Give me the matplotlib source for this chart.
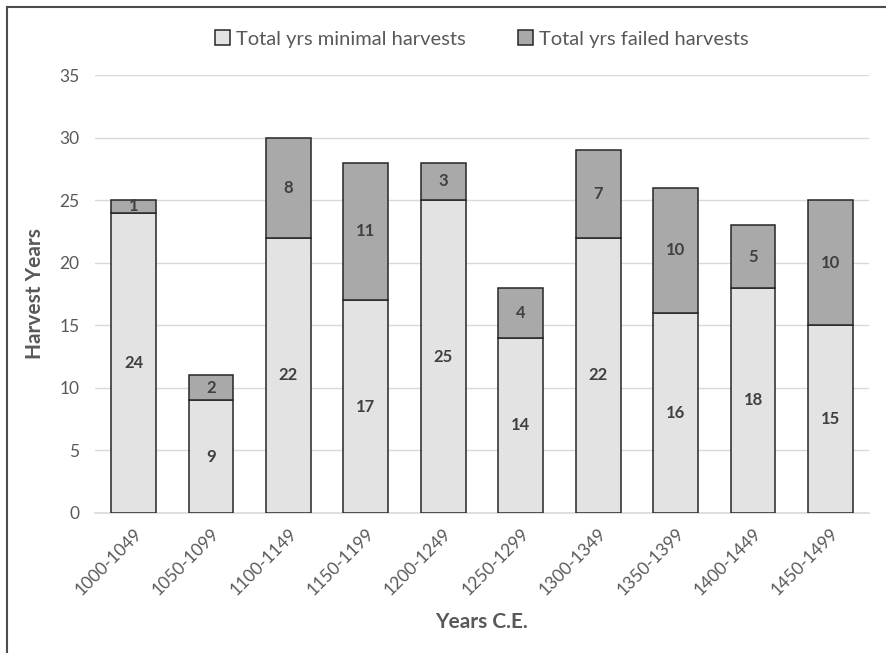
import numpy as np
import matplotlib
matplotlib.use("Agg")
import matplotlib.pyplot as plt
from matplotlib.lines import Line2D

periods = ["1000-1049", "1050-1099", "1100-1149", "1150-1199", "1200-1249",
           "1250-1299", "1300-1349", "1350-1399", "1400-1449", "1450-1499"]
minimal = [24, 9, 22, 17, 25, 14, 22, 16, 18, 15]
failed = [1, 2, 8, 11, 3, 4, 7, 10, 5, 10]

plt.rcParams['font.family'] = ['Lato', 'DejaVu Sans']
txt = '#595959'

fig = plt.figure(figsize=(8.86, 6.53), dpi=100)
ax = fig.add_axes([0.107, 0.2144, 0.874, 0.6706])

x = np.arange(len(periods))
w = 0.58
ax.bar(x, minimal, w, color='#e3e3e3', edgecolor='#262626', linewidth=1.1,
       label='Total yrs minimal harvests', zorder=3)
ax.bar(x, failed, w, bottom=minimal, color='#a9a9a9', edgecolor='#262626',
       linewidth=1.1, label='Total yrs failed harvests', zorder=3)

for i in range(len(periods)):
    ax.text(x[i], minimal[i] / 2, str(minimal[i]), ha='center', va='center',
            fontsize=12, fontweight='bold', color='#404040', zorder=4)
    ax.text(x[i], minimal[i] + failed[i] / 2, str(failed[i]), ha='center', va='center',
            fontsize=12, fontweight='bold', color='#404040', zorder=4)

ax.set_xlim(-0.5, len(periods) - 0.5)
ax.set_ylim(0, 35)
ax.set_yticks(range(0, 36, 5))
ax.yaxis.grid(True, color='#d9d9d9', linewidth=1, zorder=0)
ax.set_axisbelow(True)
for s in ['top', 'right', 'left']:
    ax.spines[s].set_visible(False)
ax.spines['bottom'].set_color('#d9d9d9')
ax.spines['bottom'].set_linewidth(1.2)
ax.tick_params(axis='both', length=0, colors=txt, labelsize=12.5)
ax.tick_params(axis='y', pad=11)
ax.set_xticks(x)
ax.set_xticklabels(periods, rotation=45, ha='right', rotation_mode='anchor')
ax.tick_params(axis='x', pad=9)

ax.set_ylabel('Harvest Years', fontsize=15, fontweight='bold', color=txt, labelpad=10)
ax.set_xlabel('Years C.E.', fontsize=15, fontweight='bold', color=txt, labelpad=10)

leg = ax.legend(loc='lower center', bbox_to_anchor=(0.5, 1.03), ncol=2, frameon=False,
                fontsize=14.5, handlelength=0.75, handleheight=0.75, handletextpad=0.3,
                columnspacing=2.6, borderpad=0.2)
for t in leg.get_texts():
    t.set_color(txt)

# figure border, top and left only
fig.add_artist(Line2D([6.5 / 886, 6.5 / 886], [0, 1 - 6.5 / 653], transform=fig.transFigure,
                      color='#4d4d4d', linewidth=1.5))
fig.add_artist(Line2D([6.5 / 886, 1], [1 - 6.5 / 653, 1 - 6.5 / 653], transform=fig.transFigure,
                      color='#4d4d4d', linewidth=1.5))

fig.savefig('out.png', dpi=100)
